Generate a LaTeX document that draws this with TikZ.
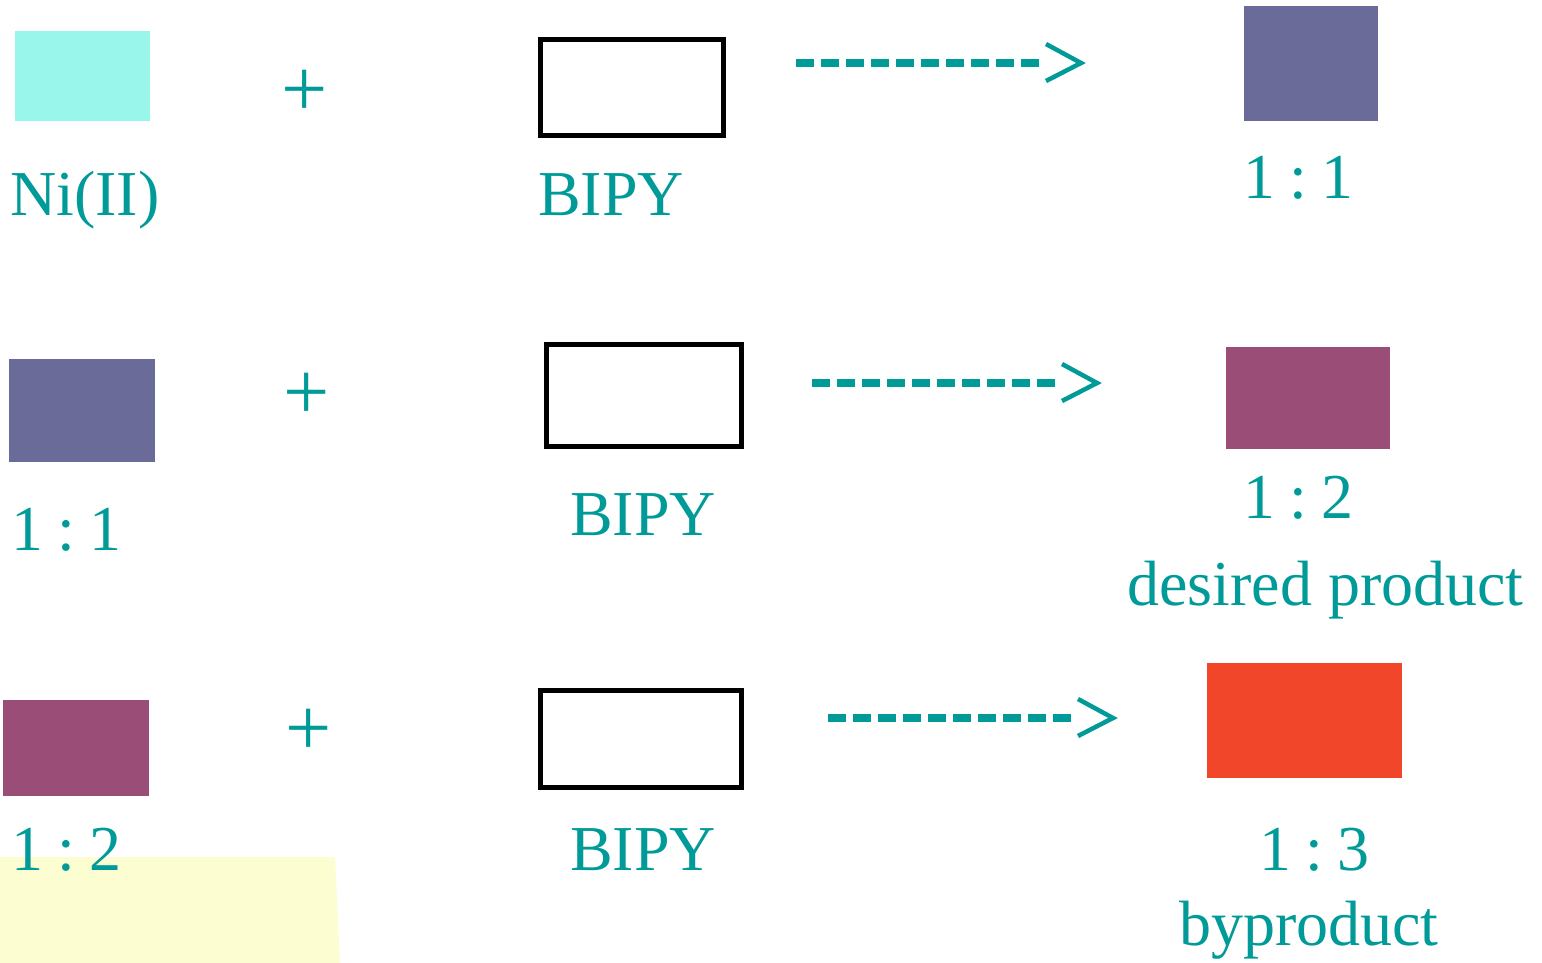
\documentclass[tikz,border=0pt]{standalone}
\usepackage{fontspec}
\setmainfont{Liberation Serif}
\definecolor{teal1}{HTML}{009B98}
\definecolor{aqua}{HTML}{98F7EA}
\definecolor{slate}{HTML}{6B6B9A}
\definecolor{mauve}{HTML}{9A4D76}
\definecolor{redp}{HTML}{F2462B}
\definecolor{paleyellow}{HTML}{FCFDD0}
\newcommand{\ratio}[2]{#1\hspace{0.22em}:\hspace{0.22em}#2}
\begin{document}
\begin{tikzpicture}[x=1pt,y=-1pt,
  lbl/.style={text=teal1,anchor=base west,inner sep=0pt,font=\fontsize{64}{70}\selectfont},
  plus/.style={text=teal1,inner sep=0pt,font=\fontsize{82}{90}\selectfont},
  ligbox/.style={draw=black,line width=5pt,inner sep=0pt},
  dashline/.style={draw=teal1,line width=8pt,dash pattern=on 18pt off 7pt},
  chev/.style={draw=teal1,line width=4.5pt,line join=miter}]
\useasboundingbox (0,0) rectangle (1542,963);
% yellow background patch
\fill[paleyellow] (0,857) -- (335,857) -- (340,963) -- (0,963) -- cycle;

% ---- row 1
\fill[aqua] (15,31) rectangle (150,121);
\node[lbl] (ni) at (10,215) {Ni(II)};
\node[plus] (p1) at (305,93) {+};
\draw[ligbox] (540.5,39.5) rectangle (723.5,135.5);
\node[lbl] (b1) at (538,215) {BIPY};
\coordinate (a1s) at (796,63);
\coordinate (a1e) at (1044,63);
\draw[dashline] (a1s) -- (a1e);
\coordinate (c1a) at (1046,44);
\coordinate (c1b) at (1081,63);
\coordinate (c1c) at (1046,81);
\draw[chev] (c1a) -- (c1b) -- (c1c);
\fill[slate] (1244,6) rectangle (1378,121);
\node[lbl] (r1) at (1243,198) {\ratio{1}{1}};

% ---- row 2
\fill[slate] (9,359) rectangle (155,462);
\node[lbl] (l2) at (11,550) {\ratio{1}{1}};
\node[plus] (p2) at (307,396) {+};
\draw[ligbox] (546.5,344.5) rectangle (741.5,446.5);
\node[lbl] (b2) at (570,535) {BIPY};
\coordinate (a2s) at (812,383);
\coordinate (a2e) at (1060,383);
\draw[dashline] (a2s) -- (a2e);
\coordinate (c2a) at (1062,364);
\coordinate (c2b) at (1097,383);
\coordinate (c2c) at (1062,401);
\draw[chev] (c2a) -- (c2b) -- (c2c);
\fill[mauve] (1226,347) rectangle (1390,449);
\node[lbl] (r2) at (1243,518) {\ratio{1}{2}};
\node[lbl] (dp) at (1127,605) {desired product};

% ---- row 3
\fill[mauve] (3,700) rectangle (149,796);
\node[lbl] (l3) at (11,870) {\ratio{1}{2}};
\node[plus] (p3) at (309,732) {+};
\draw[ligbox] (540.5,690.5) rectangle (741.5,787.5);
\node[lbl] (b3) at (570,870) {BIPY};
\coordinate (a3s) at (828,718);
\coordinate (a3e) at (1076,718);
\draw[dashline] (a3s) -- (a3e);
\coordinate (c3a) at (1078,699);
\coordinate (c3b) at (1113,718);
\coordinate (c3c) at (1078,736);
\draw[chev] (c3a) -- (c3b) -- (c3c);
\fill[redp] (1207,663) rectangle (1402,778);
\node[lbl] (r3) at (1259,870) {\ratio{1}{3}};
\node[lbl] (bp) at (1179,945) {byproduct};
\end{tikzpicture}
\end{document}
